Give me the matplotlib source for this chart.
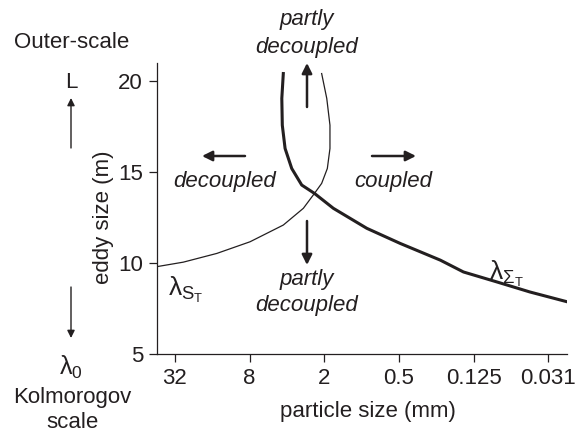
import matplotlib
matplotlib.use("Agg")
import matplotlib.pyplot as plt

plt.rcParams["font.family"] = ["Liberation Sans", "DejaVu Sans"]
plt.rcParams["mathtext.fontset"] = "custom"
plt.rcParams["mathtext.rm"] = "Liberation Sans"

INK = "#231f20"

# particle size (mm) vs eddy size (m)
SIGMA_D = [4.28, 4.40, 4.36, 4.14, 3.66, 3.04, 2.40, 1.69, 0.908, 0.489,
           0.232, 0.151, 0.081, 0.044, 0.022]
SIGMA_Y = [20.42, 19.05, 17.58, 16.30, 15.20, 14.29, 13.83, 13.01, 11.91, 11.08,
           10.16, 9.51, 8.96, 8.41, 7.87]

S_D = [2.10, 1.91, 1.80, 1.80, 1.89, 2.10, 2.40, 2.95, 4.28, 7.94, 14.7, 27.4, 45.0]
S_Y = [20.42, 19.05, 17.58, 16.30, 15.20, 14.38, 13.83, 13.01, 12.09, 11.17,
       10.53, 10.05, 9.80]

X_TICKS = [32, 8, 2, 0.5, 0.125, 0.03125]
X_TICKLABELS = ["32", "8", "2", "0.5", "0.125", "0.031"]
Y_TICKS = [5, 10, 15, 20]

W, H = 576, 432
FS = 16


def fx(px):
    return px / W


def fy(py):
    return 1 - py / H


fig = plt.figure(figsize=(5.76, 4.32), dpi=100)
ax = fig.add_axes([fx(157), fy(354), (567 - 157) / W, (354 - 63) / H])

ax.plot(S_D, S_Y, color=INK, lw=0.9, solid_joinstyle="round")
ax.plot(SIGMA_D, SIGMA_Y, color=INK, lw=2.2, solid_joinstyle="round")

ax.set_xscale("log", base=2)
ax.set_xlim(2 ** 5.48, 2 ** -5.5)
ax.set_ylim(5, 21)
ax.set_xticks(X_TICKS)
ax.set_xticklabels(X_TICKLABELS)
ax.minorticks_off()
ax.set_yticks(Y_TICKS)
ax.tick_params(labelsize=FS, colors=INK, length=6, width=0.9, pad=4)
for side in ["top", "right"]:
    ax.spines[side].set_visible(False)
for side in ["left", "bottom"]:
    ax.spines[side].set_color(INK)
    ax.spines[side].set_linewidth(0.9)

ax.set_xlabel("particle size (mm)", fontsize=FS, color=INK)
ax.set_ylabel("eddy size (m)", fontsize=FS, color=INK)
ax.xaxis.set_label_coords((368 - 157) / 410, (354 - 401) / 291)
ax.yaxis.set_label_coords((114 - 157) / 410, (354 - 217) / 291)

# side annotations
fig.text(fx(72), fy(43), "Outer-scale", fontsize=FS, color=INK, ha="center", va="center")
fig.text(fx(71), fy(82), "L", fontsize=FS, color=INK, ha="center", va="center")
fig.text(fx(71), fy(367), r"λ$_0$", fontsize=18, color=INK, ha="center", va="center")
fig.text(fx(72), fy(397), "Kolmorogov", fontsize=FS, color=INK, ha="center", va="center")
fig.text(fx(72), fy(422), "scale", fontsize=FS, color=INK, ha="center", va="center")

arrow = dict(arrowstyle="-|>", color=INK, lw=1.8, mutation_scale=15, shrinkA=0, shrinkB=0)
arrow_thin = dict(arrowstyle="-|>", color=INK, lw=1.0, mutation_scale=11, shrinkA=0, shrinkB=0)


def fig_arrow(x0, y0, x1, y1, props):
    fig.add_artist(matplotlib.patches.FancyArrowPatch(
        (fx(x0), fy(y0)), (fx(x1), fy(y1)), transform=fig.transFigure, **props))


fig_arrow(71, 148, 71, 98, arrow_thin)
fig_arrow(71, 287, 71, 338, arrow_thin)

# regime labels
fig_arrow(307, 107, 307, 63, arrow)
fig_arrow(307, 221, 307, 265, arrow)
fig_arrow(245, 156, 202, 156, arrow)
fig_arrow(372, 156, 416, 156, arrow)

lab = dict(fontsize=FS, color=INK, style="italic", ha="center", va="center")
fig.text(fx(307), fy(20), "partly", **lab)
fig.text(fx(307), fy(47), "decoupled", **lab)
fig.text(fx(225), fy(182), "decoupled", **lab)
fig.text(fx(393), fy(182), "coupled", **lab)
fig.text(fx(307), fy(280), "partly", **lab)
fig.text(fx(307), fy(305), "decoupled", **lab)

fig.text(fx(186), fy(290), r"λ$_{\mathrm{S}_{\mathrm{T}}}$", fontsize=19, color=INK,
         ha="center", va="center")
fig.text(fx(506), fy(274), r"λ$_{\Sigma_{\mathrm{T}}}$", fontsize=19, color=INK,
         ha="center", va="center")

fig.savefig("out.png", dpi=100)
